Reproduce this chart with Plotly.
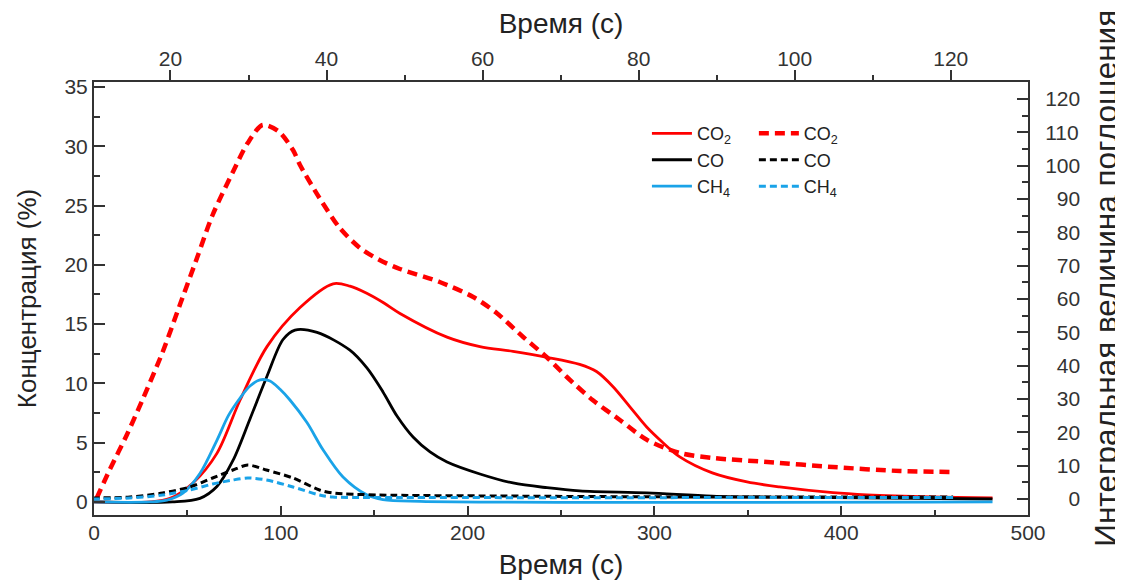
import plotly.graph_objects as go

# ---- Data (solid: bottom time axis, concentration %) ----
co2_t = [0, 30, 40.7, 53, 65.8, 78.2, 92.6, 110.3, 128, 137, 146, 155, 163.8, 189, 206.6, 224.3,
         242.5, 260, 269, 278, 287, 296, 304.6, 313.6, 331, 349.6, 367, 395.6, 413.8, 449, 481]
co2_v = [0, 0, 0.3, 1.6, 4.1, 8.6, 13.1, 16.4, 18.4, 18.2, 17.6, 16.8, 15.9, 13.9, 13.1, 12.7,
         12.2, 11.6, 11.0, 9.7, 8.0, 6.3, 5.0, 3.8, 2.45, 1.69, 1.27, 0.78, 0.6, 0.42, 0.34]

co_t = [0, 42, 56.7, 65.8, 74.4, 83.5, 92.6, 101.2, 107.6, 119.4, 137, 146.1, 154.7, 162.2,
        170.8, 179.9, 189, 206.6, 224.3, 242.5, 260, 296, 331, 367, 481]
co_v = [0, 0, 0.3, 1.3, 3.5, 7.0, 10.6, 13.7, 14.5, 14.3, 12.8, 11.3, 9.28, 7.25,
        5.48, 4.22, 3.37, 2.36, 1.6, 1.2, 0.93, 0.76, 0.5, 0.4, 0.25]

ch4_t = [0, 30, 39, 47.6, 56.7, 65.8, 72, 78.2, 83.5, 88.9, 94.2, 99.6, 104.9, 114, 122.6,
         133.3, 146, 154.7, 174.5, 481]
ch4_v = [0, 0, 0.15, 0.75, 2.4, 5.2, 7.3, 8.77, 9.78, 10.3, 10.2, 9.5, 8.6, 6.7, 4.4,
         2.1, 0.6, 0.2, 0.05, 0]

# ---- Data (dashed: top time axis, integral absorption) ----
co2i_t = [10.55, 12.2, 14.4, 16.4, 19.0, 21.2, 23.4, 25.4, 28.0, 29.9, 31.8, 33.8, 35.7,
          36.6, 39.1, 41.7, 44.3, 46.8, 49.4, 54.5, 58.8, 61.8, 65.2, 68.2, 70.8, 74.1,
          77.6, 81.1, 85.3, 89.5, 96.5, 104.9, 113.5, 120.3]
co2i_v = [0.3, 8.7, 19.2, 29.7, 44.1, 58.2, 72.3, 85.2, 98.1, 106.8, 112.2, 110.4, 104.7,
          100.2, 90.3, 81.3, 75.3, 71.7, 69.0, 65.1, 60.6, 55.8, 48.6, 42.6, 36.6, 29.7,
          23.7, 17.7, 13.8, 12.3, 11.1, 9.6, 8.4, 8.1]

coi_t = [10.0, 14.8, 19.0, 22.5, 25.4, 28.0, 29.9, 32.3, 35.7, 39.1, 40.8, 46.8, 62.2, 87.9, 120.3]
coi_v = [0.3, 0.6, 1.8, 3.6, 6.3, 8.7, 10.2, 8.7, 6.3, 2.7, 1.8, 1.2, 0.9, 0.6, 0.6]

ch4i_t = [10.0, 14.8, 19.0, 22.5, 25.4, 28.0, 29.9, 32.3, 35.7, 39.1, 40.8, 49.4, 120.3]
ch4i_v = [0, 0.3, 1.2, 2.7, 4.5, 5.7, 6.3, 5.7, 3.6, 1.2, 0.6, 0.45, 0.45]

names = ["CO<sub>2</sub>", "CO", "CH<sub>4</sub>"]
right_ticks = list(range(0, 130, 10))
FS = "\u2007"
right_text = [FS * (3 - len(str(v))) + str(v) for v in right_ticks]

RED, BLACK, BLUE = "#ff0000", "#000000", "#1aa3e8"
FONT = "Liberation Sans, Arial, sans-serif"

fig = go.Figure()
for t, v, n, c in [(co2_t, co2_v, names[0], RED), (co_t, co_v, names[1], BLACK),
                   (ch4_t, ch4_v, names[2], BLUE)]:
    fig.add_trace(go.Scatter(x=t, y=v, name=n, mode="lines",
                             line=dict(color=c, width=2.8, shape="spline", smoothing=0.9),
                             xaxis="x", yaxis="y", legend="legend"))

for t, v, n, c, w, d in [(co2i_t, co2i_v, names[0], RED, 4.5, "10px,6px"),
                         (coi_t, coi_v, names[1], BLACK, 3, "7px,4px"),
                         (ch4i_t, ch4i_v, names[2], BLUE, 3, "7px,4px")]:
    fig.add_trace(go.Scatter(x=t, y=v, name=n, mode="lines",
                             line=dict(color=c, width=w, dash=d, shape="spline", smoothing=0.8),
                             xaxis="x2", yaxis="y2", legend="legend2"))

axis_common = dict(showline=True, linecolor="#333", linewidth=2, showgrid=False, zeroline=False,
                   tickcolor="#333", tickwidth=1.5, automargin=False,
                   tickfont=dict(family=FONT, size=21, color="#333"))

# page body adds an 8px offset, so the figure is 8px smaller than the window
fig.update_layout(
    width=1115, height=574,
    margin=dict(l=86, r=95, t=74, b=67),
    paper_bgcolor="white", plot_bgcolor="white",
    font=dict(family=FONT, color="#222"),
    xaxis=dict(range=[0, 500], dtick=100, tick0=0, ticks="inside", ticklen=9,
               ticklabelstandoff=-2,
               minor=dict(dtick=50, ticks="inside", ticklen=5, tickcolor="#333"),
               title=dict(text="Время (с)", font=dict(family=FONT, size=28, color="#222"), standoff=11),
               **axis_common),
    xaxis2=dict(range=[10.2, 129.9], dtick=20, tick0=0, ticks="outside", ticklen=10,
                overlaying="x", side="top", anchor="y", ticklabelstandoff=-4,
                minor=dict(dtick=10, ticks="outside", ticklen=5, tickcolor="#333"),
                title=dict(text="Время (с)", font=dict(family=FONT, size=28, color="#222"), standoff=8),
                **axis_common),
    yaxis=dict(range=[-1.1, 35.42], dtick=5, tick0=0, ticks="inside", ticklen=11,
               minor=dict(dtick=2.5, ticks="inside", ticklen=6, tickcolor="#333"),
               title=dict(text="Концентрация (%)", font=dict(family=FONT, size=26, color="#222"), standoff=20),
               **axis_common),
    yaxis2=dict(range=[-4.8, 125.1], tickvals=right_ticks, ticktext=right_text,
                ticks="inside", ticklen=11, overlaying="y", side="right", anchor="x",
                ticklabelstandoff=11,
                minor=dict(dtick=5, ticks="inside", ticklen=6, tickcolor="#333"),
                **axis_common),
    legend=dict(x=0.592, y=0.9234, xanchor="left", yanchor="top", bgcolor="rgba(0,0,0,0)",
                font=dict(family=FONT, size=18, color="#222"), itemwidth=40, tracegroupgap=0),
    legend2=dict(x=0.7065, y=0.9234, xanchor="left", yanchor="top", bgcolor="rgba(0,0,0,0)",
                 font=dict(family=FONT, size=18, color="#222"), itemwidth=40, tracegroupgap=0),
    annotations=[dict(text="Интегральная величина поглощения", textangle=-90,
                      xref="paper", yref="paper", x=1.0835, y=0.548,
                      xanchor="center", yanchor="middle", showarrow=False,
                      font=dict(family=FONT, size=31.5, color="#222"))],
)

fig.write_html("out.html")
